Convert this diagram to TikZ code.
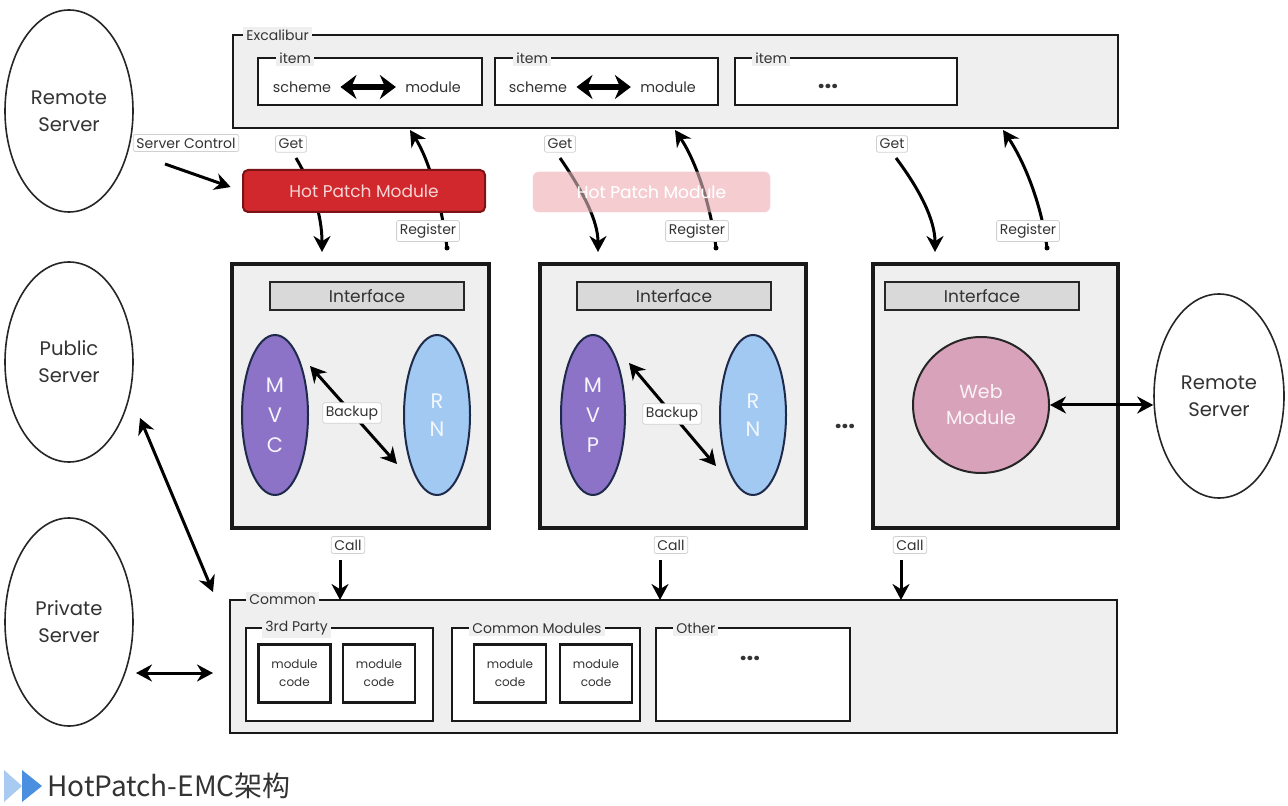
\documentclass[tikz,border=0pt]{standalone}
\usepackage{fontspec}
\setmainfont{Poppins}
\newfontfamily\cjkcap{Noto Sans CJK SC}
\usetikzlibrary{shapes.geometric,arrows.meta,calc}
\definecolor{boxgray}{HTML}{EFEFF0}
\definecolor{ifacegray}{HTML}{D9D9D9}
\definecolor{hotred}{HTML}{D0282C}
\definecolor{hotborder}{HTML}{7A1416}
\definecolor{hottext}{HTML}{F8D6D6}
\definecolor{fadedpink}{HTML}{F5CDD1}
\definecolor{mvcpurple}{HTML}{8C73C8}
\definecolor{rnblue}{HTML}{A2C9F2}
\definecolor{rnborder}{HTML}{1E2A4A}
\definecolor{webpink}{HTML}{D9A2BB}
\definecolor{inktext}{HTML}{333333}
\definecolor{capblue}{HTML}{4A8FE0}
\definecolor{caplight}{HTML}{A9CBF2}
\newcommand\fsz[2]{\fontsize{#1}{#2}\selectfont}
\tikzset{
  container/.style={draw=black!90, line width=1.4pt, fill=boxgray, inner sep=0pt, outer sep=0pt},
  modbox/.style={draw=black!90, line width=1.9pt, fill=boxgray, inner sep=0pt, outer sep=0pt},
  itembox/.style={draw=black!90, line width=1.2pt, fill=white, inner sep=0pt, outer sep=0pt},
  codebox/.style={draw=black!90, line width=1.1pt, fill=white, inner sep=0pt, outer sep=0pt,
    minimum width=36pt, minimum height=29pt, align=center, text=inktext, font=\fsz{6}{9}},
  iface/.style={draw=black!85, line width=1.1pt, fill=ifacegray, inner sep=0pt,
    minimum width=97pt, minimum height=14pt, text=inktext, font=\fsz{8.5}{10}},
  frametitle/.style={fill=boxgray, inner sep=1.5pt, anchor=west, text=inktext, font=\fsz{7}{8}},
  tag/.style={fill=white, draw=black!18, line width=0.4pt, rounded corners=1pt, inner sep=1.6pt,
    text=inktext, font=\fsz{7}{8}},
  server/.style={ellipse, draw=black!85, line width=0.8pt, fill=white, inner sep=0pt,
    minimum width=64pt, minimum height=101pt, align=center, text=inktext, font=\fsz{9.8}{13.5}},
  arr/.style={line width=1.5pt, draw=black, -{Stealth[length=8pt,width=8.5pt]}},
  darr/.style={line width=1.5pt, draw=black, {Stealth[length=8pt,width=8.5pt]}-{Stealth[length=8pt,width=8.5pt]}},
  fatarr/.style={line width=3pt, draw=black, {Stealth[length=8pt,width=12pt]}-{Stealth[length=8pt,width=12pt]}},
  plain/.style={text=inktext, inner sep=0pt},
  dotsst/.style={text=inktext, inner sep=0pt, font=\bfseries\fsz{12}{12}},
}
\begin{document}
\begin{tikzpicture}[x=0.5pt,y=-0.5pt]
\fill[white] (0,0) rectangle (1288,806);
\useasboundingbox (0,0) rectangle (1288,806);

% ---------- Excalibur ----------
\node[container, minimum width=442.5pt, minimum height=46.5pt] (exc) at (675.5,81.5) {};
\node[frametitle] (exct) at ($(exc.north west)+(10,0)$) {Excalibur};

\node[itembox, minimum width=112pt, minimum height=23.5pt] (it1) at (370,81.5) {};
\node[frametitle] at ($(it1.north west)+(18,0)$) {item};
\node[itembox, minimum width=111.5pt, minimum height=23.5pt] (it2) at (606.5,81.5) {};
\node[frametitle] at ($(it2.north west)+(18,0)$) {item};
\node[itembox, minimum width=111pt, minimum height=23.5pt] (it3) at (846,81.5) {};
\node[frametitle] at ($(it3.north west)+(17,0)$) {item};

\node[plain, font=\fsz{7.2}{8}] (sc1) at (302,87) {scheme};
\node[plain, font=\fsz{7.2}{8}] (mo1) at (433,87) {module};
\draw[fatarr] ($(sc1.east)+(9,0)$) -- ($(mo1.west)+(-9,0)$);
\node[plain, font=\fsz{7.2}{8}] (sc2) at (538,87) {scheme};
\node[plain, font=\fsz{7.2}{8}] (mo2) at (668,87) {module};
\draw[fatarr] ($(sc2.east)+(9,0)$) -- ($(mo2.west)+(-9,0)$);
\node[dotsst] (dots1) at (828,86) {...};

% ---------- Servers ----------
\node[server] (remL) at (69,111) {Remote\\Server};
\node[server, minimum height=100pt] (pub) at (69,362) {Public\\Server};
\node[server, minimum height=104pt] (priv) at (69,622) {Private\\Server};
\node[server, minimum width=65pt, minimum height=102pt] (remR) at (1219,396) {Remote\\Server};

% ---------- Module boxes ----------
\node[modbox, minimum width=128.5pt, minimum height=132pt] (b1) at (360.5,396) {};
\node[modbox, minimum width=133pt, minimum height=132pt] (b2) at (673,396) {};
\node[modbox, minimum width=122.5pt, minimum height=132pt] (b3) at (995.5,396) {};
\node[iface] (if1) at (367,296) {Interface};
\node[iface] (if2) at (674,296) {Interface};
\node[iface] (if3) at (982,296) {Interface};

\node[ellipse, draw=rnborder, line width=1pt, fill=mvcpurple, inner sep=0pt,
  minimum width=33pt, minimum height=80pt] (mvc) at (275,415) {};
\node[plain, text=white!92!mvcpurple, align=center, font=\fsz{10.5}{15}] at (mvc.center) {M\\V\\C};
\node[ellipse, draw=rnborder, line width=1pt, fill=rnblue, inner sep=0pt,
  minimum width=33pt, minimum height=80pt] (rn1) at (437,415) {};
\node[plain, text=white!85!rnblue, align=center, font=\fsz{10.5}{14}] at (rn1.center) {R\\N};
\coordinate (bk1a) at (310,366);
\coordinate (bk1b) at (397,464);
\draw[darr] (bk1a) -- (bk1b);
\node[tag] at (352,413) {Backup};

\node[ellipse, draw=rnborder, line width=1pt, fill=mvcpurple, inner sep=0pt,
  minimum width=32pt, minimum height=80pt] (mvp) at (593,415) {};
\node[plain, text=white!92!mvcpurple, align=center, font=\fsz{10.5}{15}] at (mvp.center) {M\\V\\P};
\node[ellipse, draw=rnborder, line width=1pt, fill=rnblue, inner sep=0pt,
  minimum width=33pt, minimum height=80pt] (rn2) at (753,415) {};
\node[plain, text=white!85!rnblue, align=center, font=\fsz{10.5}{14}] at (rn2.center) {R\\N};
\coordinate (bk2a) at (629,363);
\coordinate (bk2b) at (716,466);
\draw[darr] (bk2a) -- (bk2b);
\node[tag] at (672,414) {Backup};

\node[circle, draw=black!85, line width=1pt, fill=webpink, inner sep=0pt, minimum size=68pt,
  align=center, text=white!88!webpink, font=\fsz{9.5}{13}] (web) at (981,405) {Web\\Module};
\draw[darr] (web.east) -- (web.east -| remR.west);

\node[dotsst] (dots2) at (845,426) {...};

% ---------- Top connectors ----------
\coordinate (g1s) at (296,158);  \coordinate (g1e) at (322,252);
\coordinate (r1s) at (447,248);  \coordinate (r1e) at (410,130);
\coordinate (g2s) at (560,158);  \coordinate (g2e) at (598,252);
\coordinate (r2s) at (716,248);  \coordinate (r2e) at (675,130);
\coordinate (g3s) at (896,158);  \coordinate (g3e) at (935,252);
\coordinate (r3s) at (1047,248); \coordinate (r3e) at (1003,130);

% Hot patch modules (faded one below the arrows, shown through)
\node[fill=fadedpink, rounded corners=3pt, inner sep=0pt,
  minimum width=118.5pt, minimum height=20pt, text=white, font=\fsz{8.5}{10}] (hpf) at (651.5,192) {Hot Patch Module};

\draw[arr] (g1s) .. controls (312,185) and (322,215) .. (g1e);
\draw[arr] (r1s) .. controls (441,200) and (428,158) .. (r1e);
\draw[arr] (g2s) .. controls (582,190) and (598,220) .. (g2e);
\draw[arr] (r2s) .. controls (710,200) and (694,158) .. (r2e);
\draw[arr] (g3s) .. controls (920,190) and (935,220) .. (g3e);
\draw[arr] (r3s) .. controls (1041,200) and (1022,158) .. (r3e);
\fill (r1s) circle (2.5); \fill (r2s) circle (2.5); \fill (r3s) circle (2.5);

\fill[fadedpink, opacity=0.55, rounded corners=3pt] (hpf.south west) rectangle (hpf.north east);
\node[text=white, font=\fsz{8.5}{10}, inner sep=0pt] at (hpf.center) {Hot Patch Module};

\node[draw=hotborder, line width=1pt, fill=hotred, rounded corners=2.5pt, inner sep=0pt,
  minimum width=121pt, minimum height=21pt, text=hottext, font=\fsz{8.5}{10}] (hpm) at (364,191) {Hot Patch Module};

\coordinate (scs) at (165,164);
\draw[arr, shorten >=6pt] (scs) -- (hpm.west);

\node[tag] (sctl) at (186,143) {Server Control};
\node[tag] at (291,144) {Get};
\node[tag] at (560,144) {Get};
\node[tag] at (892,144) {Get};
\node[tag] at (428,231) {Register};
\node[tag] at (697,231) {Register};
\node[tag] at (1028,231) {Register};

% ---------- Common ----------
\node[container, minimum width=443.5pt, minimum height=66.5pt] (com) at (673.5,666.5) {};
\node[frametitle] at ($(com.north west)+(16,0)$) {Common};

\node[itembox, minimum width=93.5pt, minimum height=46.5pt] (tp) at (339.5,674.5) {};
\node[frametitle] at ($(tp.north west)+(16,0)$) {3rd Party};
\node[itembox, minimum width=94pt, minimum height=46.5pt] (cm) at (546,674.5) {};
\node[frametitle] at ($(cm.north west)+(17,0)$) {Common Modules};
\node[itembox, minimum width=97pt, minimum height=46.5pt] (oth) at (753,674.5) {};
\node[frametitle] at ($(oth.north west)+(17,0)$) {Other};

\node[codebox] (mc1) at (294.5,673.5) {module\\code};
\node[codebox] (mc2) at (379,673.5) {module\\code};
\node[codebox] (mc3) at (510,673.5) {module\\code};
\node[codebox] (mc4) at (596,673.5) {module\\code};
\node[dotsst] (dots3) at (750,658) {...};

% Call arrows
\coordinate (c1s) at (340,560); \coordinate (c1e) at (340,600);
\coordinate (c2s) at (660,560); \coordinate (c2e) at (660,600);
\coordinate (c3s) at (901,560); \coordinate (c3e) at (901,600);
\draw[arr] (c1s) -- (c1e);
\draw[arr] (c2s) -- (c2e);
\draw[arr] (c3s) -- (c3e);
\node[tag] at (348,545) {Call};
\node[tag] at (671,545) {Call};
\node[tag] at (910,545) {Call};

% Server links to Common
\coordinate (pubs) at (140,418);
\coordinate (pube) at (213,592);
\coordinate (privs) at (136,673);
\coordinate (prive) at (213,673);
\draw[darr] (pubs) -- (pube);
\draw[darr] (privs) -- (prive);

% ---------- Caption ----------
\fill[caplight] (4,770) -- (22,786) -- (4,802) -- cycle;
\fill[capblue] (22,770) -- (42,786) -- (22,802) -- cycle;
\node[anchor=base west, inner sep=0pt, text=inktext, font=\cjkcap\fsz{14}{16}] (cap) at (47,796) {HotPatch-EMC架构};
\end{tikzpicture}
\end{document}
